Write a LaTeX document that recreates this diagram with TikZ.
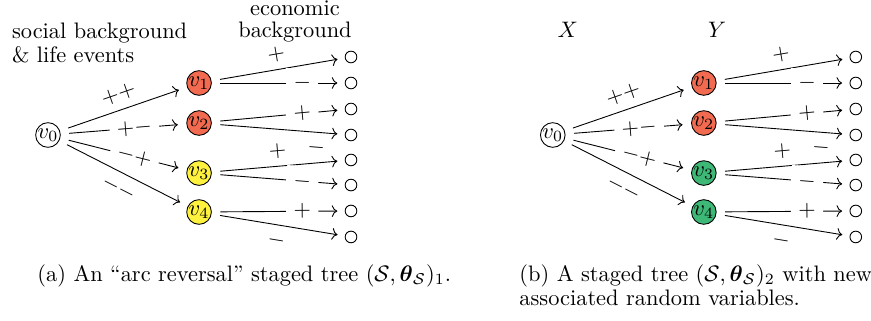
\documentclass[tikz,border=0pt]{standalone}
\usepackage{amsmath}
\usepackage{xcolor}
\definecolor{stagered}{HTML}{F26A4F}
\definecolor{stageyellow}{HTML}{FFF23F}
\definecolor{stagegreen}{HTML}{3DB877}
\usepackage{tikz}
\usetikzlibrary{arrows.meta}

\begin{document}
\begin{tikzpicture}[
  root/.style={draw,circle,inner sep=0pt,minimum size=11pt,outer sep=4pt},
  stage/.style={root,fill=#1},
  leaf/.style={draw,circle,inner sep=0pt,minimum size=5.2pt,outer sep=3.5pt},
  arr/.style={-To},
  txt/.style={inner sep=0pt}
]
  \useasboundingbox (-0.753,-2.903) rectangle (12.913,2.118);
  % Variable names
  \node[txt,anchor=base west,align=left] (social) at (-0.57,1.13)
    {social background\\[-1pt]\& life events};
  \node[txt,anchor=base,align=center] (econ) at (3.875,1.522)
    {economic\\[-1.8pt]background};
  \node[txt,anchor=base] (varx) at (8.155,1.522) {$X$};
  \node[txt,anchor=base] (vary) at (10.5,1.522) {$Y$};
  % The two staged trees
  \foreach \p/\dx/\low in {a/0/stageyellow,b/7.92/stagegreen}{
  \begin{scope}[xshift=\dx cm]
    \node[root] (\p-v0) at (0,0) {$v_0$};
    \node[stage=stagered] (\p-v1) at (2.37,0.816)  {$v_1$};
    \node[stage=stagered] (\p-v2) at (2.37,0.188)  {$v_2$};
    \node[stage=\low]     (\p-v3) at (2.37,-0.597) {$v_3$};
    \node[stage=\low]     (\p-v4) at (2.37,-1.208) {$v_4$};
    \foreach \i/\y in {1/1.224,2/0.816,3/0.408,4/0,5/-0.392,6/-0.785,7/-1.192,8/-1.6}
      \node[leaf] (\p-l\i) at (4.754,\y) {};
    % Edges
    \draw[arr] (\p-v0) -- node[pos=.5,sloped,above] {$++$} (\p-v1);
    \draw[arr] (\p-v0) -- node[pos=.6,sloped,fill=white] {$+-$} (\p-v2);
    \draw[arr] (\p-v0) -- node[pos=.6,sloped,fill=white] {$-+$} (\p-v3);
    \draw[arr] (\p-v0) -- node[pos=.52,sloped,below] {$--$} (\p-v4);
    \draw[arr] (\p-v1) -- node[pos=.5,sloped,above] {$+$} (\p-l1);
    \draw[arr] (\p-v1) -- node[pos=.7,sloped,fill=white] {$-$} (\p-l2);
    \draw[arr] (\p-v2) -- node[pos=.7,sloped,fill=white] {$+$} (\p-l3);
    \draw[arr] (\p-v2) -- node[pos=.83,sloped,below] {$-$} (\p-l4);
    \draw[arr] (\p-v3) -- node[pos=.5,sloped,above] {$+$} (\p-l5);
    \draw[arr] (\p-v3) -- node[pos=.7,sloped,fill=white] {$-$} (\p-l6);
    \draw[arr] (\p-v4) -- node[pos=.7,sloped,fill=white] {$+$} (\p-l7);
    \draw[arr] (\p-v4) -- node[pos=.5,sloped,below] {$-$} (\p-l8);
  \end{scope}
  }
  % Captions
  \node[txt,anchor=base west] (capa) at (-0.173,-2.291)
    {(a) An ``arc reversal'' staged tree $(\mathcal{S},\boldsymbol{\theta}_{\mathcal{S}})_1$.};
  \node[txt,anchor=base west,align=left] (capb) at (7.39,-2.68)
    {(b) A staged tree $(\mathcal{S},\boldsymbol{\theta}_{\mathcal{S}})_2$ with new\\[-1pt]
     associated random variables.};
\end{tikzpicture}
\end{document}
